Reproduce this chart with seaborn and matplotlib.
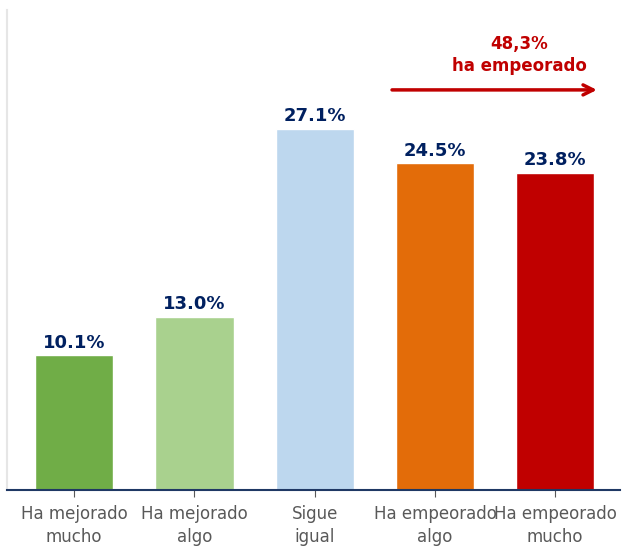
import seaborn as sns
import matplotlib.pyplot as plt
import pandas as pd

categorias = ["Ha mejorado\nmucho", "Ha mejorado\nalgo", "Sigue\nigual",
              "Ha empeorado\nalgo", "Ha empeorado\nmucho"]
valores = [10.1, 13.0, 27.1, 24.5, 23.8]
colores = ["#70AD47", "#A9D18E", "#BDD7EE", "#E36C09", "#C00000"]
total_empeorado = "48,3%"

df = pd.DataFrame({"cat": categorias, "val": valores})

sns.set_style("white")
plt.rcParams['font.family'] = ['DejaVu Sans']

fig = plt.figure(figsize=(6.22, 5.49), dpi=100)
ax = fig.add_axes([0.011, 0.1075, 0.986, 0.8745])

sns.barplot(data=df, x="cat", y="val", hue="cat", palette=colores,
            legend=False, width=0.65, saturation=1, ax=ax)

for i, v in enumerate(valores):
    ax.text(i, v + 0.25, f"{v:.1f}%", ha="center", va="bottom",
            fontsize=13, fontweight="bold", color="#002060")

# flecha "ha empeorado"
ax.annotate("", xy=(4.37, 30.0), xytext=(2.62, 30.0),
            arrowprops=dict(arrowstyle="->", color="#C00000", lw=2.5,
                            mutation_scale=18))
ax.text(3.70, 31.1, f"{total_empeorado}\nha empeorado", ha="center",
        va="bottom", fontsize=12, fontweight="bold", color="#C00000",
        linespacing=1.3)

ax.set_ylim(0, 36)
ax.set_xlim(-0.56, 4.54)
ax.set_xlabel("")
ax.set_ylabel("")
ax.set_yticks([])
ax.tick_params(axis="x", colors="#595959", labelsize=12, length=5,
               direction="out", bottom=True, color="#595959", pad=6)
for lbl in ax.get_xticklabels():
    lbl.set_linespacing(1.35)
for s in ["top", "right"]:
    ax.spines[s].set_visible(False)
ax.spines["left"].set_color("#E6E6E6")
ax.spines["left"].set_linewidth(1.5)
ax.spines["bottom"].set_color("#1F3864")
ax.spines["bottom"].set_linewidth(1.5)

fig.savefig("out.png", dpi=100)
